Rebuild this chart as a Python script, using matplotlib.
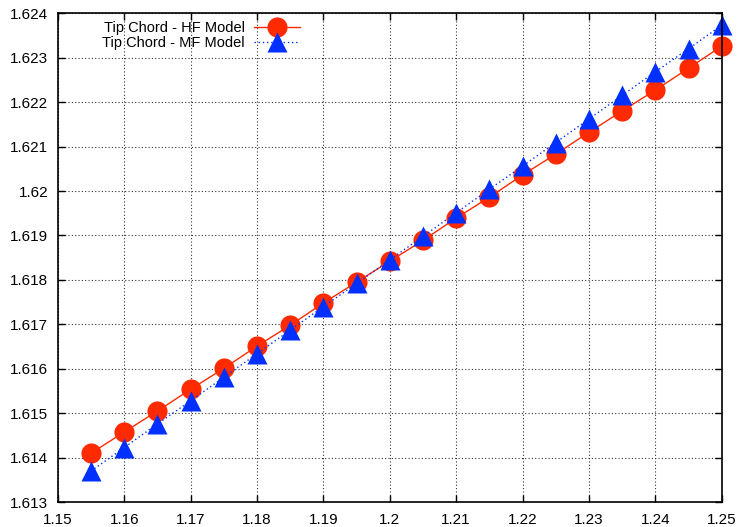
import matplotlib
matplotlib.use("Agg")
import matplotlib.pyplot as plt
from matplotlib.ticker import MultipleLocator

# data
x = [1.155, 1.16, 1.165, 1.17, 1.175, 1.18, 1.185, 1.19, 1.195, 1.2,
     1.205, 1.21, 1.215, 1.22, 1.225, 1.23, 1.235, 1.24, 1.245, 1.25]
hf = [1.61410, 1.61458, 1.61505, 1.61554, 1.61601, 1.61651, 1.61698, 1.61748, 1.61795, 1.61842,
      1.61889, 1.61939, 1.61986, 1.62036, 1.62083, 1.62132, 1.62180, 1.62227, 1.62276, 1.62326]
mf = [1.61370, 1.61423, 1.61476, 1.61528, 1.61581, 1.61634, 1.61687, 1.61740, 1.61792, 1.61845,
      1.61898, 1.61951, 1.62004, 1.62056, 1.62109, 1.62162, 1.62215, 1.62268, 1.62320, 1.62373]

plt.rcParams['font.family'] = ['Liberation Sans', 'DejaVu Sans']

fig = plt.figure(figsize=(7.41, 5.27), dpi=100)
ax = fig.add_axes([0.078, 0.047, 0.896, 0.928])

ax.plot(x, hf, color='#ff2a00', lw=1, marker='o', ms=14.5, mec='none',
        label='Tip Chord - HF Model', clip_on=False)
ax.plot(x, mf, color='#0030ff', lw=1, ls=(0, (1, 2)), marker='^', ms=15, mec='none',
        label='Tip Chord - MF Model', clip_on=False)

ax.set_xlim(1.15, 1.25)
ax.set_ylim(1.613, 1.624)
ax.xaxis.set_major_locator(MultipleLocator(0.01))
ax.yaxis.set_major_locator(MultipleLocator(0.001))

def fmt(v, pos):
    return '%g' % round(v, 4)
ax.xaxis.set_major_formatter(fmt)
ax.yaxis.set_major_formatter(fmt)

ax.grid(True, color='#333333', ls=(0, (1, 2)), lw=0.8)
ax.tick_params(direction='in', top=True, right=True, labelsize=11, length=5, width=1)
ax.tick_params(axis='x', pad=8)
ax.tick_params(axis='y', pad=7)
for s in ax.spines.values():
    s.set_linewidth(1.2)

leg = ax.legend(loc='upper left', bbox_to_anchor=(0.055, 1.0), frameon=False,
                markerfirst=False, fontsize=10.5, handlelength=3.2,
                labelspacing=0.05, handletextpad=0.6, borderaxespad=0.15)

fig.savefig('out.png', dpi=100)
